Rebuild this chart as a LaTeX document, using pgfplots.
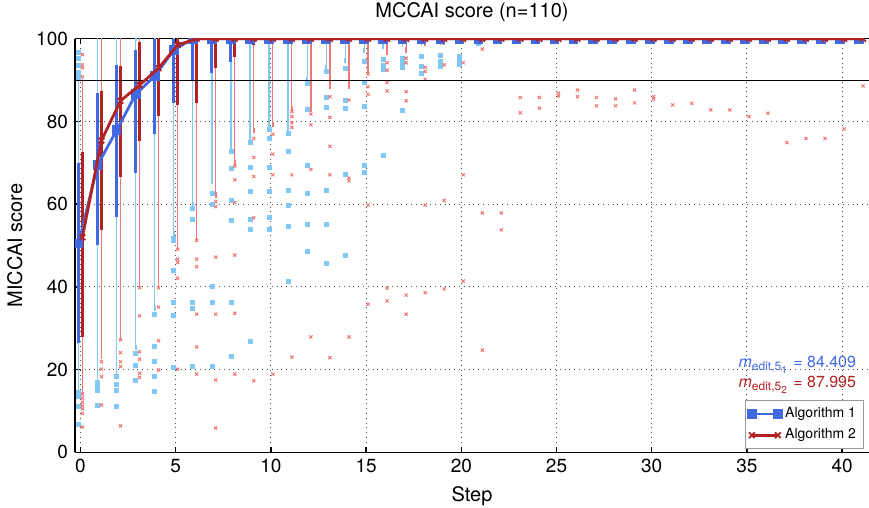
\documentclass[border=0pt]{standalone}
\usepackage{pgfplots}
\pgfplotsset{compat=1.18}
\usepackage{pgfplotstable}
\usepackage{fontspec}
\setmainfont{TeX Gyre Heros}
\definecolor{dblue}{RGB}{65,105,225}
\definecolor{dred}{RGB}{178,34,34}
\definecolor{lblue}{RGB}{130,200,245}
\definecolor{lred}{RGB}{240,120,120}

\pgfplotstableread{
s lw q1 med q3 uw
0 15.0 26.5 50.5 70.0 90.0
1 17.9 50.1 69.5 86.8 100
2 19.1 56.8 77.9 93.7 100
3 25.4 67.6 86.6 97.4 100
4 34.7 76.9 91.0 100 100
5 53.0 84.5 97.3 100 100
6 60.0 90.0 100 100 100
7 65.4 91.8 100 100 100
8 73.3 94.5 100 100 100
9 76.1 99.0 100 100 100
10 78.7 99.6 100 100 100
11 78.4 99.6 100 100 100
12 90.1 99.6 100 100 100
13 93.0 99.6 100 100 100
14 94.7 99.6 100 100 100
15 97.1 99.6 100 100 100
16 98.2 99.6 100 100 100
17 98.6 99.6 100 100 100
18 99.0 99.6 100 100 100
19 99.2 99.6 100 100 100
20 99.4 99.6 100 100 100
21 99.5 99.6 100 100 100
22 99.6 99.6 100 100 100
23 99.6 99.6 100 100 100
24 99.6 99.6 100 100 100
25 99.6 99.6 100 100 100
26 99.6 99.6 100 100 100
27 99.6 99.6 100 100 100
28 99.6 99.6 100 100 100
29 99.6 99.6 100 100 100
30 99.6 99.6 100 100 100
31 99.6 99.6 100 100 100
32 99.6 99.6 100 100 100
33 99.6 99.6 100 100 100
34 99.6 99.6 100 100 100
35 99.6 99.6 100 100 100
36 99.6 99.6 100 100 100
37 99.6 99.6 100 100 100
38 99.6 99.6 100 100 100
39 99.6 99.6 100 100 100
40 99.6 99.6 100 100 100
41 99.6 99.6 100 100 100
}\tabA

\pgfplotstableread{
s lw q1 med q3 uw
0 14.6 27.8 52.0 72.7 89.6
1 23.3 53.8 75.4 87.4 100
2 27.7 66.6 85.0 93.4 100
3 40.6 75.4 88.8 99.3 100
4 40.7 81.3 92.9 100 100
5 49.7 84.0 98.5 100 100
6 51.5 84.5 100 100 100
7 62.2 92.9 100 100 100
8 70.0 95.7 100 100 100
9 77.9 98.5 100 100 100
10 79.3 99.6 100 100 100
11 83.1 99.6 100 100 100
12 83.0 99.6 100 100 100
13 88.4 99.6 100 100 100
14 88.6 99.6 100 100 100
15 92.1 99.6 100 100 100
16 96.6 99.6 100 100 100
17 97.3 99.6 100 100 100
18 98.8 99.6 100 100 100
19 99.2 99.6 100 100 100
20 99.4 99.6 100 100 100
21 99.5 99.6 100 100 100
22 99.6 99.6 100 100 100
23 99.6 99.6 100 100 100
24 99.6 99.6 100 100 100
25 99.6 99.6 100 100 100
26 99.6 99.6 100 100 100
27 99.6 99.6 100 100 100
28 99.6 99.6 100 100 100
29 99.6 99.6 100 100 100
30 99.6 99.6 100 100 100
31 99.6 99.6 100 100 100
32 99.6 99.6 100 100 100
33 99.6 99.6 100 100 100
34 99.6 99.6 100 100 100
35 99.6 99.6 100 100 100
36 99.6 99.6 100 100 100
37 99.6 99.6 100 100 100
38 99.6 99.6 100 100 100
39 99.6 99.6 100 100 100
40 99.6 99.6 100 100 100
41 99.6 99.6 100 100 100
}\tabB

\pgfplotstableread{
s v
0 96.6
0 95.3
0 93.5
0 91.9
0 90.6
0 14.5
0 13.5
0 11.0
0 6.8
1 17.0
1 16.0
1 15.0
1 11.4
2 18.3
2 16.5
2 15.0
2 11.2
3 24.0
3 21.0
3 17.5
4 33.4
4 25.7
4 21.9
4 18.4
4 14.7
5 51.8
5 51.3
5 44.1
5 36.2
5 33.2
5 20.5
6 59.0
6 56.4
6 36.2
6 34.7
6 20.7
7 62.6
7 60.0
7 40.0
7 36.2
7 20.7
8 72.7
8 68.7
8 60.8
8 56.2
8 36.2
8 23.1
9 74.9
9 68.8
9 63.2
9 56.4
9 54.0
9 26.7
10 78.1
10 75.9
10 68.8
10 63.2
10 56.7
10 54.0
11 77.0
11 72.7
11 63.3
11 59.7
11 54.6
11 41.3
12 89.3
12 83.0
12 69.3
12 62.6
12 55.1
12 48.5
13 92.1
13 85.8
13 83.4
13 63.4
13 55.1
13 45.8
14 92.8
14 85.2
14 83.2
14 67.1
14 47.5
15 94.5
15 89.4
15 83.6
15 69.3
15 67.7
16 95.0
16 93.5
16 92.5
16 71.9
17 95.3
17 94.1
17 93.0
17 82.8
18 95.7
18 93.4
18 91.6
19 96.1
19 94.5
19 93.3
20 95.8
20 94.5
20 93.9
21 98.9
}\outA

\pgfplotstableread{
s v
0 96.2
0 93.7
0 93.0
0 90.8
0 14.1
0 13.1
0 12.1
0 11.2
0 10.5
0 9.4
0 6.1
1 21.9
1 20.1
1 18.3
1 11.4
2 27.2
2 24.1
2 21.9
2 20.7
2 6.4
3 39.8
3 33.0
3 24.3
3 22.5
3 19.1
3 18.1
4 39.8
4 35.1
4 27.0
4 19.9
5 49.1
5 46.7
5 45.9
5 42.1
5 20.1
6 51.3
6 46.7
6 44.9
6 33.4
6 25.5
6 18.9
7 60.6
7 59.4
7 47.2
7 33.4
7 17.5
7 5.9
8 69.2
8 65.9
8 60.4
8 47.7
8 33.6
8 18.9
9 75.9
9 71.3
9 66.7
9 56.7
9 17.3
10 76.9
10 72.1
10 67.1
10 18.9
11 82.4
11 81.2
11 79.7
11 78.6
11 67.1
11 23.0
12 81.8
12 79.2
12 68.4
12 27.9
13 86.0
13 81.0
13 74.0
13 67.1
13 22.9
14 85.2
14 66.3
14 65.6
14 27.9
15 91.5
15 88.4
15 86.6
15 59.8
15 35.8
16 94.2
16 92.4
16 89.4
16 87.4
16 39.7
16 36.6
17 95.3
17 94.2
17 87.2
17 85.0
17 38.0
17 33.4
18 93.1
18 92.1
18 90.2
18 59.8
18 38.6
19 93.7
19 60.9
19 39.5
20 94.2
20 67.1
20 41.4
21 97.5
21 57.9
21 24.7
22 57.9
22 53.8
23 85.8
23 82.1
24 85.8
24 83.2
25 86.8
25 86.2
26 87.6
26 86.0
27 85.8
27 83.8
28 85.5
28 83.8
29 87.6
29 84.5
30 86.0
30 85.4
31 84.0
32 84.4
33 82.8
34 82.8
35 81.2
36 82.0
37 74.9
38 75.9
39 75.9
40 78.2
41 88.6
}\outB

\pgfplotsset{
  errbase/.style={forget plot, only marks, mark=*, mark size=0pt,
    mark options={draw opacity=0, fill opacity=0}},
}

\begin{document}
\begin{tikzpicture}
\begin{axis}[
  scale only axis, width=397pt, height=206.75pt,
  xmin=-0.29, xmax=41.41, ymin=0, ymax=100,
  axis x line*=box, axis y line*=left,
  axis line style={line width=0.7pt},
  xtick={0,5,...,40}, ytick={0,20,...,100},
  tick align=inside, major tick length=2.5pt,
  tick style={line width=0.7pt, black},
  grid=major, major grid style={black!70, dotted, line width=0.5pt},
  clip marker paths=true,
  title={MCCAI score (n=110)},
  xlabel={Step}, ylabel={MICCAI score},
  tick label style={font=\fontsize{9.5}{11}\selectfont},
  label style={font=\fontsize{10}{12}\selectfont},
  title style={font=\fontsize{10}{12}\selectfont, yshift=-1pt},
  /pgf/number format/assume math mode=true,
  legend style={at={(axis cs:34.9,12.65)}, anchor=north west, draw=black!40,
    line width=0.4pt, font=\fontsize{7}{8.5}\selectfont, fill=white,
    inner sep=1.5pt, row sep=0pt},
  legend cell align=left,
  legend image code/.code={\draw[mark repeat=1,#1] plot coordinates {(0pt,0pt) (13pt,0pt)};},
]
% whiskers
\addplot[errbase, error bars/.cd, y dir=minus, y explicit,
  error mark=-, error bar style={draw=lblue, solid, line width=0.6pt},
  error mark options={draw=lblue, solid, line width=0.8pt, mark size=1.3pt}]
  table[x expr=\thisrow{s}-0.1, y=q1, y error expr=\thisrow{q1}-\thisrow{lw}] {\tabA};
\addplot[errbase, error bars/.cd, y dir=plus, y explicit,
  error mark=-, error bar style={draw=lblue, solid, line width=0.6pt},
  error mark options={draw=lblue, solid, line width=0.8pt, mark size=1.3pt}]
  table[x expr=\thisrow{s}-0.1, y=q3, y error expr=\thisrow{uw}-\thisrow{q3}] {\tabA};
\addplot[errbase, error bars/.cd, y dir=minus, y explicit,
  error mark=-, error bar style={draw=lred, solid, line width=0.6pt},
  error mark options={draw=lred, solid, line width=0.8pt, mark size=1.3pt}]
  table[x expr=\thisrow{s}+0.1, y=q1, y error expr=\thisrow{q1}-\thisrow{lw}] {\tabB};
\addplot[errbase, error bars/.cd, y dir=plus, y explicit,
  error mark=-, error bar style={draw=lred, solid, line width=0.6pt},
  error mark options={draw=lred, solid, line width=0.8pt, mark size=1.3pt}]
  table[x expr=\thisrow{s}+0.1, y=q3, y error expr=\thisrow{uw}-\thisrow{q3}] {\tabB};
% outliers
\addplot[forget plot, only marks, mark=square*, mark size=1pt, color=lblue]
  table[x expr=\thisrow{s}-0.1, y=v] {\outA};
\addplot[forget plot, only marks, mark=x, mark size=1.1pt, color=lred, line width=0.5pt]
  table[x expr=\thisrow{s}+0.1, y=v] {\outB};
% boxes
\addplot[errbase, error bars/.cd, y dir=minus, y explicit,
  error mark=-, error mark options={opacity=0, mark size=0pt},
  error bar style={draw=dblue, solid, line width=1.5pt}]
  table[x expr=\thisrow{s}-0.1, y=q3, y error expr=\thisrow{q3}-\thisrow{q1}] {\tabA};
\addplot[errbase, error bars/.cd, y dir=minus, y explicit,
  error mark=-, error mark options={opacity=0, mark size=0pt},
  error bar style={draw=dred, solid, line width=1.5pt}]
  table[x expr=\thisrow{s}+0.1, y=q3, y error expr=\thisrow{q3}-\thisrow{q1}] {\tabB};
% reference line at 90
\addplot[forget plot, black, line width=0.6pt, mark=none] coordinates {(-0.29,90) (41.41,90)};
% medians
\addplot[dblue, line width=1.4pt, mark=square*, mark size=1.7pt, mark options={solid}]
  table[x expr=\thisrow{s}-0.1, y=med] {\tabA};
\addlegendentry{Algorithm 1}
\addplot[dred, line width=1.4pt, mark=x, mark size=2pt, mark options={solid, line width=0.9pt}]
  table[x expr=\thisrow{s}+0.1, y=med] {\tabB};
\addlegendentry{Algorithm 2}
\node[anchor=base east, text=dblue, font=\fontsize{8}{9}\selectfont] at (axis cs:41.1,20.6)
  {\textit{m}\textsubscript{edit,5\textsubscript{1}} = 84.409};
\node[anchor=base east, text=dred, font=\fontsize{8}{9}\selectfont] at (axis cs:41.1,15.7)
  {\textit{m}\textsubscript{edit,5\textsubscript{2}} = 87.995};
\coordinate (pll) at (rel axis cs:0,0);
\coordinate (pur) at (rel axis cs:1,1);
\end{axis}
\pgfresetboundingbox
\path ([shift={(-37.5pt,-27.5pt)}]pll) rectangle ([shift={(0pt,19.4pt)}]pur);
\end{tikzpicture}
\end{document}
